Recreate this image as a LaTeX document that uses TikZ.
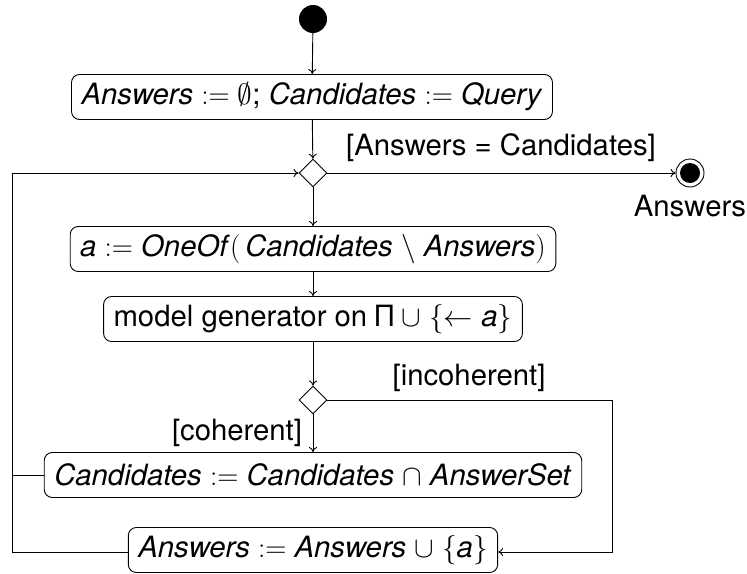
\RequirePackage{fix-cm}
\documentclass[tikz,border=0pt]{standalone}
\usepackage{fontspec}
\setmainfont{TeX Gyre Heros}
\usetikzlibrary{shapes.geometric,arrows.meta}
\newcommand{\vi}[1]{\textit{#1}}
\begin{document}
\begin{tikzpicture}[x=1pt,y=-1pt,
  every node/.style={font=\fontsize{29.3}{34}\selectfont},
  act/.style={draw, rounded corners=8pt, line width=0.9pt, inner xsep=10pt, minimum height=45pt, inner ysep=4pt},
  dec/.style={draw, diamond, minimum width=28pt, minimum height=28pt, inner sep=0pt, line width=0.9pt},
  flow/.style={draw, line width=0.9pt, -{To[length=5pt,width=8pt]}},
  line/.style={draw, line width=0.9pt},
  lbl/.style={inner sep=0pt}]
\useasboundingbox (0,0) rectangle (747,573);
\node[circle, fill=black, minimum size=28pt, inner sep=0pt] (start) at (313,19) {};
\node[act] (b1) at (312,97) {\vi{Answers} $:=$ $\emptyset$; \vi{Candidates} $:=$ \vi{Query}};
\node[dec] (d1) at (313,173) {};
\node[circle, draw, line width=0.9pt, minimum size=28pt, inner sep=0pt] (fin) at (690,173) {};
\node[circle, fill=black, minimum size=20pt, inner sep=0pt] (fini) at (690,173) {};
\node[lbl] (finl) at (690,206) {Answers};
\node[act] (b2) at (313,249) {\vi{a} $:=$ \vi{OneOf}$($\,\vi{Candidates} $\setminus$ \vi{Answers}$)$};
\node[act] (b3) at (313,319) {model generator on Π $\cup$ $\{\leftarrow$ \vi{a}$\}$};
\node[dec] (d2) at (313,400) {};
\node[act] (b4) at (313,475) {\vi{Candidates} $:=$ \vi{Candidates} $\cap$ \vi{AnswerSet}};
\node[act] (b5) at (313,550) {\vi{Answers} $:=$ \vi{Answers} $\cup$ $\{$\vi{a}$\}$};
\node[lbl] (l1) at (501,148) {[Answers = Candidates]};
\node[lbl] (l2) at (469,378) {[incoherent]};
\node[lbl] (l3) at (237,433) {[coherent]};
\coordinate (c1) at (12,552);
\coordinate (c2) at (12,173);
\coordinate (c3) at (12,475);
\coordinate (c4) at (612,400);
\coordinate (c5) at (612,552);
\path[flow] (start) -- (b1);
\path[flow] (b1) -- (d1);
\path[flow] (d1.east) -- (fin.west);
\path[flow] (d1.south) -- (b2);
\path[flow] (b2) -- (b3);
\path[flow] (b3) -- (d2);
\path[flow] (d2.south) -- (b4);
\path[flow] (d2.east) -- (c4) -- (c5) -- (b5.east |- c5);
\path[flow] (b5.west |- c1) -- (c1) -- (c2) -- (d1.west);
\path[line] (b4.west) -- (c3);
\end{tikzpicture}
\end{document}
